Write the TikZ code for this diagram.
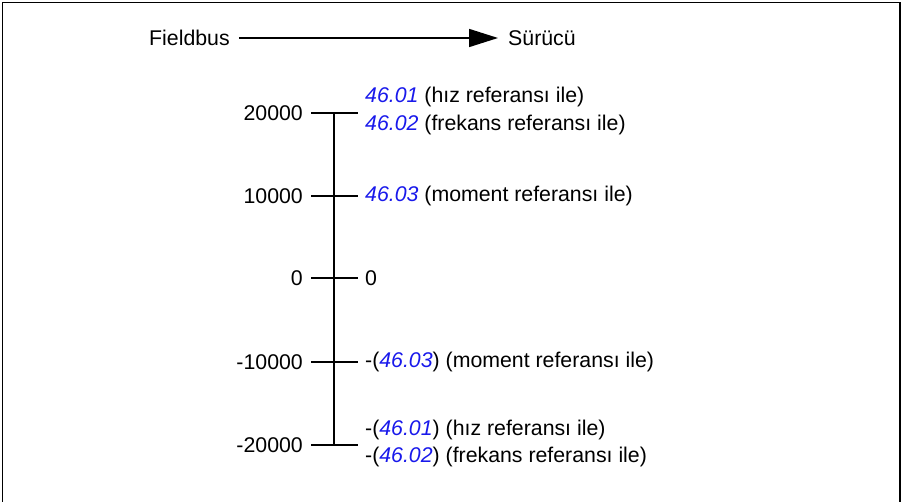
\documentclass[tikz,border=0pt]{standalone}
\usepackage{fontspec}
\setmainfont{Liberation Sans}
\usetikzlibrary{arrows.meta}
\definecolor{refblue}{RGB}{25,25,235}
\newcommand{\pr}[1]{\textcolor{refblue}{\textit{#1}}}
\begin{document}
\begin{tikzpicture}[x=1pt,y=-1pt,
  lbl/.style={inner sep=0pt,font=\fontsize{21.3}{24}\selectfont},
  leftlbl/.style={lbl,anchor=east},
  rightlbl/.style={lbl,anchor=west},
  tick/.style={line width=1.8pt},
  axis/.style={line width=1.8pt}]
\useasboundingbox (0,0) rectangle (904,502);
\draw[line width=1.6pt] (2.5,502) -- (2.5,2.5) -- (900,2.5) -- (900,502);
% header
\node[leftlbl,anchor=west] (fb) at (149,38) {Fieldbus};
\node[rightlbl] (sr) at (508,38) {Sürücü};
\draw[line width=1.6pt,-{Triangle[length=29pt,width=18pt]}] ([xshift=9pt]fb.east) -- ([xshift=-10pt]sr.west);
% axis
\coordinate (top) at (334,113);
\coordinate (bot) at (334,445);
\draw[axis] (top) -- (bot);
% ticks
\foreach \n/\y in {t1/113,t2/196,t3/278,t4/362,t5/445}{
  \coordinate (\n l) at (311,\y);
  \coordinate (\n r) at (358,\y);
  \draw[tick] (\n l) -- (\n r);
}
% left labels
\node[leftlbl] (l1) at (303,113) {20000};
\node[leftlbl] (l2) at (303,196) {10000};
\node[leftlbl] (l3) at (303,278) {0};
\node[leftlbl] (l4) at (303,362) {-10000};
\node[leftlbl] (l5) at (303,445) {-20000};
% right labels
\node[rightlbl] (r1a) at (365,97) {\pr{46.01} (hız referansı ile)};
\node[rightlbl] (r1b) at (365,125) {\pr{46.02} (frekans referansı ile)};
\node[rightlbl] (r2) at (365,196) {\pr{46.03} (moment referansı ile)};
\node[rightlbl] (r3) at (365,278) {0};
\node[rightlbl] (r4) at (365,362) {-(\pr{46.03}) (moment referansı ile)};
\node[rightlbl] (r5a) at (365,430) {-(\pr{46.01}) (hız referansı ile)};
\node[rightlbl] (r5b) at (365,457) {-(\pr{46.02}) (frekans referansı ile)};
\end{tikzpicture}
\end{document}
